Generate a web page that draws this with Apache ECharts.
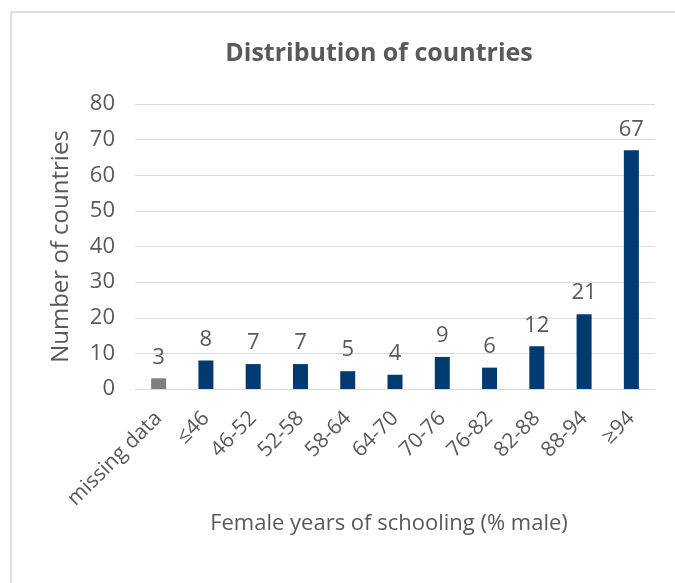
<!DOCTYPE html>
<html>
<head>
<meta charset="utf-8">
<script src="https://cdn.jsdelivr.net/npm/echarts@6/dist/echarts.min.js"></script>
<style>
  html, body { margin: 0; padding: 0; background: #fff; }
  #chart { width: 675px; height: 583px; }
</style>
</head>
<body>
<div id="chart"></div>
<script>
const categories = ['missing data', '≤46', '46-52', '52-58', '58-64', '64-70', '70-76', '76-82', '82-88', '88-94', '≥94']
const counts = [3, 8, 7, 7, 5, 4, 9, 6, 12, 21, 67]
const yTicks = [0, 10, 20, 30, 40, 50, 60, 70, 80]

const textColor = '#595959'
const fontFamily = '"Open Sans", Lato, sans-serif'

const chart = echarts.init(document.getElementById('chart'))
chart.setOption({
  animation: false,
  textStyle: { fontFamily: fontFamily },
  title: {
    text: 'Distribution of countries',
    left: 374,
    top: 36,
    textAlign: 'center',
    textStyle: { color: textColor, fontSize: 25, fontWeight: 'bold', fontFamily: fontFamily }
  },
  graphic: [
    { type: 'line', shape: { x1: 11, y1: 12, x2: 675, y2: 12 }, style: { stroke: '#BFBFBF', lineWidth: 1 } },
    { type: 'line', shape: { x1: 11, y1: 12, x2: 11, y2: 583 }, style: { stroke: '#BFBFBF', lineWidth: 1 } }
  ],
  grid: { left: 135, right: 20, top: 104, bottom: 194, containLabel: false },
  xAxis: {
    type: 'category',
    data: categories,
    name: 'Female years of schooling (% male)',
    nameLocation: 'middle',
    nameGap: 123,
    nameTextStyle: { color: textColor, fontSize: 22, fontFamily: fontFamily, padding: [0, 12, 0, 0] },
    axisLine: { lineStyle: { color: '#D9D9D9' } },
    axisTick: { show: false },
    axisLabel: { rotate: 45, margin: 26, color: textColor, fontSize: 21, fontFamily: fontFamily, interval: 0 }
  },
  yAxis: {
    type: 'value',
    min: yTicks[0],
    max: yTicks[yTicks.length - 1],
    interval: 10,
    name: 'Number of countries',
    nameLocation: 'middle',
    nameGap: 62,
    nameTextStyle: { color: textColor, fontSize: 24, fontFamily: fontFamily },
    axisLine: { show: false },
    axisTick: { show: false },
    axisLabel: { color: textColor, fontSize: 22, margin: 20, fontFamily: fontFamily },
    splitLine: { lineStyle: { color: '#D9D9D9' } }
  },
  series: [{
    type: 'bar',
    barWidth: 15,
    data: counts.map(function (v, i) {
      return { value: v, itemStyle: { color: i === 0 ? '#7F7F7F' : '#003A70' } }
    }),
    label: {
      show: true,
      position: 'top',
      distance: 10,
      color: textColor,
      fontSize: 22,
      fontFamily: fontFamily
    }
  }]
})
</script>
</body>
</html>
